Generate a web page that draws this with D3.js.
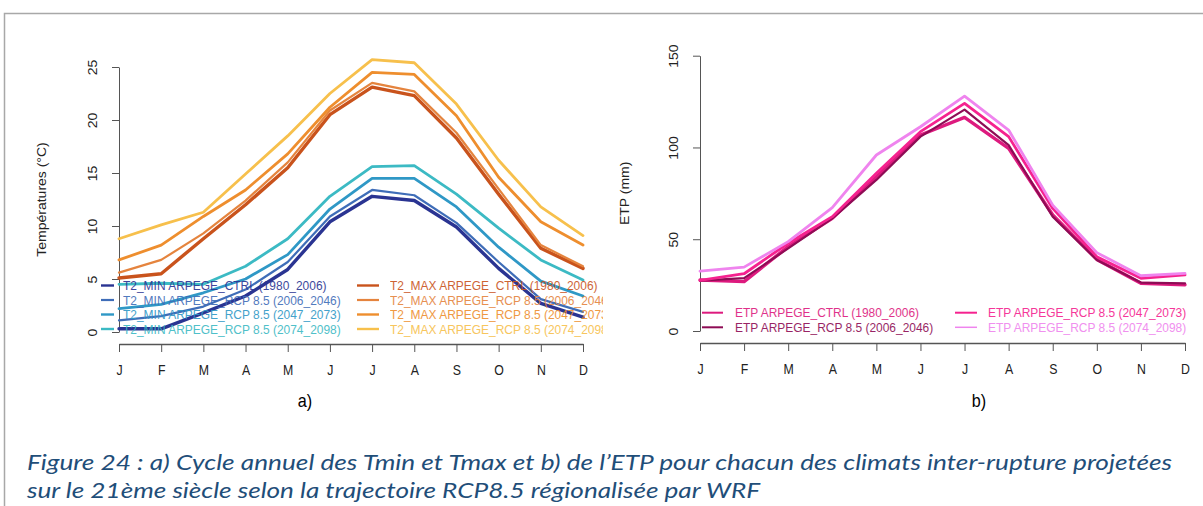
<!DOCTYPE html>
<html>
<head>
<meta charset="utf-8">
<script src="https://cdn.jsdelivr.net/npm/d3@7"></script>
<style>
  body { margin: 0; background: #fff; }
  svg text { font-family: "Liberation Sans", Arial, sans-serif; }
</style>
</head>
<body>
<div id="figure"></div>
<script>
"use strict";
// month labels and tick values
const months = ["J", "F", "M", "A", "M", "J", "J", "A", "S", "O", "N", "D"];
const tempTicks = [0, 5, 10, 15, 20, 25];
const etpTicks = [0, 50, 100, 150];

// a) temperatures (°C)
const tminCtrl = [0.3, 0.3, 1.8, 3.4, 5.9, 10.4, 12.8, 12.4, 9.9, 6.0, 2.7, 1.4];
const tmin2006 = [1.1, 1.5, 2.4, 4.0, 6.6, 10.9, 13.4, 12.9, 10.3, 6.6, 3.1, 1.9];
const tmin2047 = [2.2, 2.6, 3.7, 5.0, 7.3, 11.6, 14.5, 14.5, 11.8, 8.0, 4.8, 3.4];
const tmin2074 = [4.5, 4.6, 4.5, 6.2, 8.8, 12.8, 15.6, 15.7, 13.0, 9.8, 6.8, 4.9];
const tmaxCtrl = [5.1, 5.5, 8.8, 12.0, 15.5, 20.5, 23.1, 22.3, 18.3, 13.0, 7.9, 6.0];
const tmax2006 = [5.6, 6.8, 9.3, 12.4, 16.0, 20.9, 23.5, 22.7, 18.8, 13.5, 8.2, 6.2];
const tmax2047 = [6.8, 8.2, 10.9, 13.4, 16.8, 21.2, 24.5, 24.3, 20.4, 14.6, 10.4, 8.2];
const tmax2074 = [8.8, 10.1, 11.3, 14.9, 18.5, 22.5, 25.7, 25.4, 21.5, 16.2, 11.8, 9.1];
const tminNames = ["T2_MIN ARPEGE_CTRL (1980_2006)", "T2_MIN ARPEGE_RCP 8.5 (2006_2046)",
                   "T2_MIN ARPEGE_RCP 8.5 (2047_2073)", "T2_MIN ARPEGE_RCP 8.5 (2074_2098)"];
const tmaxNames = ["T2_MAX ARPEGE_CTRL (1980_2006)", "T2_MAX ARPEGE_RCP 8.5 (2006_2046)",
                   "T2_MAX ARPEGE_RCP 8.5 (2047_2073)", "T2_MAX ARPEGE_RCP 8.5 (2074_2098)"];

// b) ETP (mm)
const etpCtrl = [27.8, 26.9, 46.0, 61.4, 84.0, 106.8, 116.4, 99.5, 63.2, 39.0, 26.0, 25.2];
const etp2006 = [27.4, 28.8, 45.0, 61.4, 82.3, 105.9, 120.6, 101.3, 62.3, 38.7, 26.4, 26.0];
const etp2047 = [27.6, 31.2, 47.8, 62.3, 85.9, 108.6, 124.0, 105.9, 66.8, 40.5, 28.7, 30.6];
const etp2074 = [32.6, 34.8, 48.7, 67.2, 95.9, 111.3, 128.0, 109.5, 68.6, 42.7, 30.1, 31.4];
const etpNames = ["ETP ARPEGE_CTRL (1980_2006)", "ETP ARPEGE_RCP 8.5 (2006_2046)",
                  "ETP ARPEGE_RCP 8.5 (2047_2073)", "ETP ARPEGE_RCP 8.5 (2074_2098)"];

const captionLines = [
    "Figure 24 : a) Cycle annuel des Tmin et Tmax et b) de l\u2019ETP pour chacun des climats inter-rupture projetées",
    "sur le 21ème siècle selon la trajectoire RCP8.5 régionalisée par WRF"
];

(function() {
    const size = { width: 1203, height: 506 };
    const squeeze = 0.92;
    const tminColors = ["#2a3492", "#3f6db8", "#2f98c6", "#3cbac4"];
    const tmaxColors = ["#c9531c", "#e5843e", "#ee8e2e", "#f7c04c"];
    const etpColors = ["#dd1a7e", "#8e0c55", "#f5228f", "#ef84ee"];
    const widths = [3.4, 2.2, 2.8, 2.8];

    window.addEventListener("load", init);

    function init() {
        const svg = d3.select("#figure")
            .append("svg")
                .attr("width", size.width)
                .attr("height", size.height);

        // frame of the document figure
        svg.append("path")
            .attr("d", "M4.5,506V13.5H1203")
            .attr("fill", "none")
            .attr("stroke", "#a8a8a8")
            .attr("stroke-width", 1.5);

        const xL = d3.scaleLinear().domain([0, 11]).range([119, 583]);
        const yL = d3.scaleLinear().domain([0, 25]).range([332, 67]);
        const xR = d3.scaleLinear().domain([0, 11]).range([700, 1185]);
        const yR = d3.scaleLinear().domain([0, 150]).range([331, 55.7]);

        drawAxes(svg, xL, yL, tempTicks, 344, "Températures (°C)", 41);
        drawAxes(svg, xR, yR, etpTicks, 343, "ETP (mm)", 624);

        const tmin = [tminCtrl, tmin2006, tmin2047, tmin2074];
        const tmax = [tmaxCtrl, tmax2006, tmax2047, tmax2074];
        const etp = [etpCtrl, etp2006, etp2047, etp2074];

        tmin.forEach((s, i) => drawLine(svg, xL, yL, s, tminColors[i], widths[i]));
        tmax.forEach((s, i) => drawLine(svg, xL, yL, s, tmaxColors[i], widths[i]));
        etp.forEach((s, i) => drawLine(svg, xR, yR, s, etpColors[i], widths[i]));

        // left plot legend gets clipped at the plot region edge
        svg.append("clipPath").attr("id", "clipA")
            .append("rect").attr("x", 0).attr("y", 0).attr("width", 603).attr("height", 400);

        const legA = svg.append("g").attr("clip-path", "url(#clipA)");
        const rowsA = [285.5, 300, 314.5, 329];
        tminNames.forEach((n, i) => legendItem(legA, 101, 114, 123, rowsA[i], n, tminColors[i], widths[i]));
        tmaxNames.forEach((n, i) => legendItem(legA, 357, 379, 390, rowsA[i], n, tmaxColors[i], widths[i]));

        const legB = svg.append("g");
        legendItem(legB, 702, 723, 735, 312.7, etpNames[0], etpColors[0], 2);
        legendItem(legB, 702, 723, 735, 327.3, etpNames[1], etpColors[1], 2);
        legendItem(legB, 955, 977, 988, 312.7, etpNames[2], etpColors[2], 2);
        legendItem(legB, 955, 977, 988, 327.3, etpNames[3], etpColors[3], 1.5);

        svg.append("text")
            .attr("transform", "translate(305,407) scale(0.9,1)")
            .attr("text-anchor", "middle")
            .style("font-size", "18px")
            .text("a)");
        svg.append("text")
            .attr("transform", "translate(979,407) scale(0.9,1)")
            .attr("text-anchor", "middle")
            .style("font-size", "18px")
            .text("b)");

        svg.selectAll(".caption")
            .data(captionLines)
            .enter()
            .append("text")
                .attr("class", "caption")
                .attr("x", 27)
                .attr("y", (d, i) => 470 + i * 28)
                .attr("textLength", (d, i) => i == 0 ? 1145 : 733)
                .attr("lengthAdjust", "spacingAndGlyphs")
                .style("font-family", "Lato, 'Open Sans', sans-serif")
                .style("font-style", "italic")
                .style("font-size", "22px")
                .attr("fill", "#1f4e79")
                .text(d => d);
    }

    function drawAxes(svg, x, y, ticks, xAxisY, title, titleX) {
        const gy = svg.append("g")
            .attr("transform", "translate(" + x(0) + ",0)")
            .call(d3.axisLeft(y).tickValues(ticks).tickSize(7).tickSizeOuter(0));
        gy.attr("font-size", null).attr("font-family", null);
        gy.selectAll("text")
            .attr("x", 0)
            .attr("y", 0)
            .attr("dy", "0.35em")
            .attr("text-anchor", "middle")
            .attr("transform", "translate(-27,0) scale(" + squeeze + ",1) rotate(-90)")
            .style("font-size", "14px")
            .attr("fill", "#222");

        const gx = svg.append("g")
            .attr("transform", "translate(0," + xAxisY + ")")
            .call(d3.axisBottom(x)
                .tickValues(d3.range(12))
                .tickFormat(i => months[i])
                .tickSize(8)
                .tickSizeOuter(0));
        gx.attr("font-size", null).attr("font-family", null);
        gx.select(".domain").attr("stroke-width", 1.6).attr("stroke", "#666");
        gx.selectAll("text")
            .attr("y", 21)
            .attr("dy", "0.71em")
            .attr("transform", "scale(0.88,1)")
            .style("font-size", "14px")
            .attr("fill", "#222");

        [gx, gy].forEach(g => g.selectAll("line, path").attr("stroke", "#555"));

        svg.append("text")
            .attr("transform", "translate(" + titleX + "," + ((y.range()[0] + y.range()[1]) / 2) + ") scale(" + squeeze + ",1) rotate(-90)")
            .attr("text-anchor", "middle")
            .attr("dy", "0.35em")
            .style("font-size", "14px")
            .attr("fill", "#222")
            .text(title);
    }

    function drawLine(svg, x, y, values, color, width) {
        const line = d3.line()
            .x((d, i) => x(i))
            .y(d => y(d));
        svg.append("path")
            .datum(values)
            .attr("d", line)
            .attr("fill", "none")
            .attr("stroke", color)
            .attr("stroke-width", width)
            .attr("stroke-linejoin", "round")
            .attr("stroke-linecap", "round");
    }

    function legendItem(g, x1, x2, tx, y, name, color, width) {
        g.append("line")
            .attr("x1", x1).attr("x2", x2)
            .attr("y1", y).attr("y2", y)
            .attr("stroke", color)
            .attr("stroke-width", Math.min(width, 2.4));
        g.append("text")
            .attr("transform", "translate(" + tx + "," + y + ") scale(" + squeeze + ",1)")
            .attr("dy", "0.35em")
            .style("font-size", "13px")
            .attr("fill", color)
            .attr("opacity", 0.9)
            .text(name);
    }
})();
</script>
</body>
</html>
